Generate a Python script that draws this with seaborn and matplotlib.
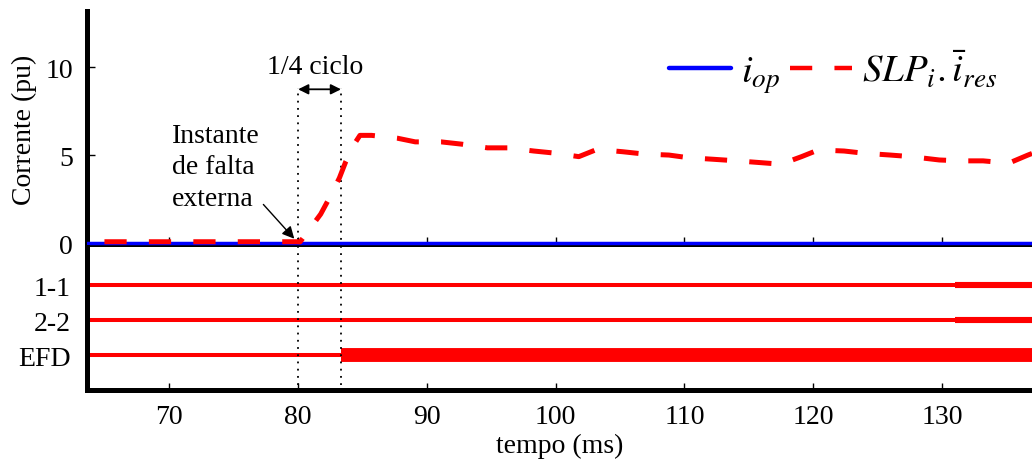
import numpy as np
import pandas as pd
import matplotlib
matplotlib.use("Agg")
import matplotlib.pyplot as plt
import seaborn as sns

# ---------------- data ----------------
t_op = [63.6, 137.0]
i_op = [0.0, 0.0]

t_slp = [63.6, 79.9, 80.15, 81.75, 82.45, 83.2, 83.7, 84.47, 84.8, 85.7, 87.7, 89.1,
         91.1, 92.7, 94.7, 96.3, 98.3, 99.8, 101.8, 103.2, 105.2, 106.85, 108.8,
         110.3, 112.25, 114.1, 115.9, 117.5, 119.1, 120.4, 122.4, 124.0, 126.0,
         127.6, 129.8, 131.5, 133.2, 135.2, 136.65, 137.0]
slp_ires = [0.08, 0.08, 0.07, 1.65, 2.6, 3.7, 4.64, 5.76, 6.13, 6.13, 5.97, 5.76,
            5.76, 5.63, 5.42, 5.42, 5.24, 5.13, 4.92, 5.33, 5.2, 5.07, 5.01,
            4.86, 4.77, 4.68, 4.58, 4.49, 4.92, 5.3, 5.24, 5.11, 5.01,
            4.92, 4.73, 4.68, 4.68, 4.55, 5.0, 5.1]

signals = ["1-1", "2-2", "EFD"]
signal_levels = [3, 2, 1]
# change instants (ms) of each logic signal: state 0 before, state 1 after
sig_on = [131.0, 131.0, 83.33]

t_fault = 80.0
t_quarter = 83.33

xticks = [70, 80, 90, 100, 110, 120, 130]
yticks = [0, 5, 10]

# ---------------- style ----------------
sns.set_style("white")
plt.rcParams["font.family"] = ["Liberation Serif", "DejaVu Serif"]
plt.rcParams["mathtext.fontset"] = "stix"
for k in ["text.color", "axes.labelcolor", "xtick.color", "ytick.color"]:
    plt.rcParams[k] = "black"

FS = 20
fig = plt.figure(figsize=(10.32, 4.64), dpi=100)
ax1 = fig.add_axes([0.0843, 0.4655, 0.9157, 0.5085])
ax2 = fig.add_axes([0.0843, 0.157, 0.9157, 0.3085], sharex=ax1)

df_op = pd.DataFrame({"t": t_op, "v": i_op})
df_slp = pd.DataFrame({"t": t_slp, "v": slp_ires})

sns.lineplot(data=df_op, x="t", y="v", ax=ax1, color="#0000ff", lw=2.5,
             label=r"$i_{op}$", zorder=3)
lw_r = 3.6
sns.lineplot(data=df_slp, x="t", y="v", ax=ax1, color="#ff0000", lw=lw_r,
             dashes=False, label=r"$SLP_{i}.\bar{i}_{res}$", zorder=4)
ax1.lines[-1].set_linestyle((5.4, (16 / lw_r, 16 / lw_r)))

ax1.set_xlim(63.6, 137.0)
ax1.set_ylim(-0.22, 13.2)
ax1.set_yticks(yticks)
ax1.set_xticks(xticks)
ax1.tick_params(axis="x", bottom=True, labelbottom=False, direction="in",
                length=7, width=1)
ax1.tick_params(axis="y", left=True, direction="in", length=6, width=1,
                labelsize=FS, pad=10)
ax1.set_xlabel("")
ax1.set_ylabel("Corrente (pu)", fontsize=FS, labelpad=6)
for s in ["top", "right"]:
    ax1.spines[s].set_visible(False)
for s in ["left", "bottom"]:
    ax1.spines[s].set_linewidth(3.6)
    ax1.spines[s].set_color("black")
ax1.spines["bottom"].set_zorder(2)

leg = ax1.legend(loc="upper right", bbox_to_anchor=(1.0, 0.985), frameon=False,
                 ncol=2, fontsize=28, handlelength=1.6, handletextpad=0.25,
                 columnspacing=0.25)
for h in leg.get_lines():
    h.set_linewidth(3.2)
leg.get_lines()[1].set_linestyle((0, (16 / 3.2, 16 / 3.2)))

# dotted guides and annotations
ax1.vlines([t_fault, t_quarter], -0.22, 8.8, colors="black", linestyles=(0, (1, 3)),
           lw=1.3, zorder=1)
ax1.annotate("", xy=(t_fault, 8.75), xytext=(t_quarter, 8.75),
             arrowprops=dict(arrowstyle="<|-|>", color="black", lw=1.3,
                             mutation_scale=15, shrinkA=0, shrinkB=0))
ax1.text((t_fault + t_quarter) / 2 - 0.35, 10.05, "1/4 ciclo", ha="center",
         va="center", fontsize=FS)
for txt, v in zip(["Instante", "de falta", "externa"], [6.13, 4.34, 2.55]):
    ax1.text(70.2, v, txt, ha="left", va="center", fontsize=FS)
ax1.annotate("", xy=(79.7, 0.25), xytext=(77.3, 2.2),
             arrowprops=dict(arrowstyle="-|>", color="black", lw=1.0,
                             mutation_scale=18, shrinkA=0, shrinkB=0))

# ---------------- logic signals ----------------
x_end = 137.0
for lvl, ton in zip(signal_levels, sig_on):
    ax2.hlines(lvl, 63.6, ton, colors="#ff0000", lw=2.9)
    thick = 10.0 if ton < 100 else 4.4
    ax2.hlines(lvl, ton, x_end, colors="#ff0000", lw=thick)

ax2.vlines([t_fault, t_quarter], 0.15, 4.1, colors="black", linestyles=(0, (1, 3)),
           lw=1.3)
ax2.set_ylim(0, 4.09)
ax2.set_yticks(signal_levels)
ax2.set_yticklabels(signals)
ax2.tick_params(axis="y", left=False, length=0, labelsize=FS, pad=12)
ax2.set_xticks(xticks)
ax2.tick_params(axis="x", bottom=True, direction="in", length=5, width=1,
                labelsize=FS, pad=10)
ax2.set_xlabel("tempo (ms)", fontsize=FS, labelpad=3)
for s in ["top", "right"]:
    ax2.spines[s].set_visible(False)
for s in ["left", "bottom"]:
    ax2.spines[s].set_linewidth(3.6)
    ax2.spines[s].set_color("black")

fig.savefig("out.png", dpi=100)
